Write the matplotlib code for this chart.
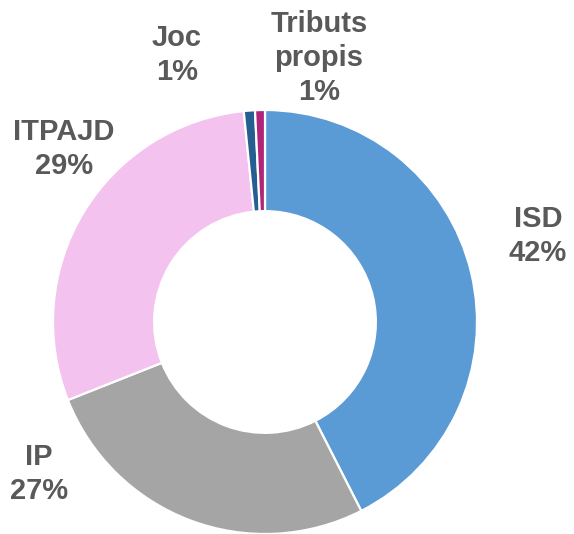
import matplotlib.pyplot as plt

categories = ['ISD', 'IP', 'ITPAJD', 'Joc', 'Tributs\npropis']
shares = [42.5, 26.5, 29.4, 0.85, 0.75]
pct_labels = ['42%', '27%', '29%', '1%', '1%']
colors = ['#5B9BD5', '#A5A5A5', '#F4C2EE', '#255E91', '#B0247A']

# label centres in pixel coords of the 574x534 image
label_pos = [(538, 236), (39, 474), (64, 149), (177, 55), (319, 58)]

cx, cy, r = 265, 322, 212

fig = plt.figure(figsize=(5.74, 5.34), dpi=100)
ax = fig.add_axes([0, 0, 1, 1])
ax.pie(shares, colors=colors, radius=r, center=(0, 0), startangle=90,
       counterclock=False,
       wedgeprops=dict(width=r * 0.477, edgecolor='white', linewidth=1.6))

for cat, pct, (px, py) in zip(categories, pct_labels, label_pos):
    ax.text(px - cx, cy - py, cat + '\n' + pct, ha='center', va='center',
            fontsize=21, fontweight='bold', color='#595959',
            family=['Liberation Sans', 'DejaVu Sans'], linespacing=1.28)

ax.set_xlim(-cx, 574 - cx)
ax.set_ylim(cy - 534, cy)
ax.set_aspect('equal')
ax.axis('off')
fig.savefig('out.png', dpi=100, facecolor='white')
